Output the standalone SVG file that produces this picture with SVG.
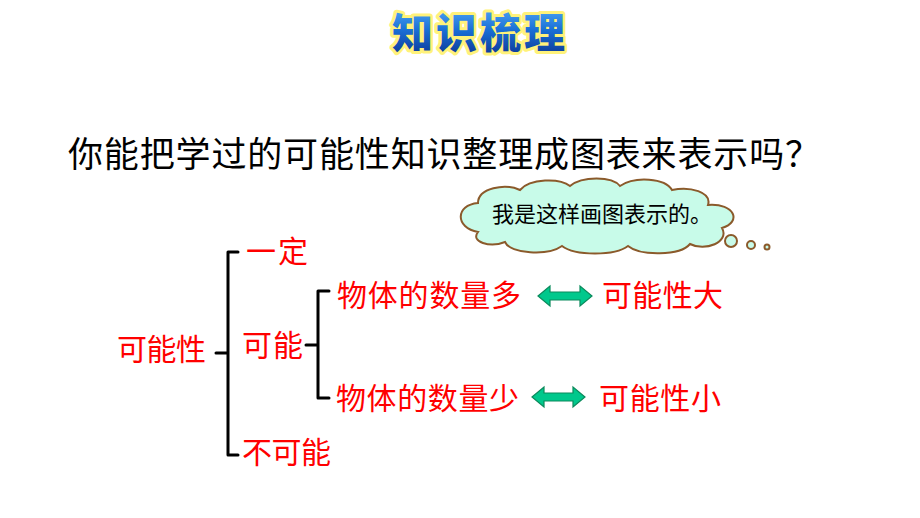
<svg xmlns="http://www.w3.org/2000/svg" width="920" height="518" viewBox="0 0 920 518">
<defs>
<linearGradient id="tg" x1="0" y1="0" x2="0" y2="1">
<stop offset="0" stop-color="#5fb8ff"/>
<stop offset="0.5" stop-color="#1a6fd6"/>
<stop offset="1" stop-color="#0a2f8c"/>
</linearGradient>
</defs>
<style>
.cjk{font-family:"Noto Sans CJK SC","Noto Sans",sans-serif;}
.red{fill:#ff0000;font-size:30px;}
.q{fill:#000;font-size:35px;}
.br{fill:none;stroke:#000;stroke-width:3;stroke-linecap:round;stroke-linejoin:round;}
.arr{fill:#00c88c;stroke:#0b8a5c;stroke-width:1.2;}
</style>
<rect width="920" height="518" fill="#fff"/>
<g id="title">
<text class="cjk" x="480" y="48" text-anchor="middle" font-size="41" font-weight="900" letter-spacing="3" fill="url(#tg)" stroke="#fff27a" stroke-width="6" paint-order="stroke" stroke-linejoin="round">知识梳理</text>
</g>
<g id="question">
<text class="cjk q" x="68" y="167" textLength="752" lengthAdjust="spacing">你能把学过的可能性知识整理成图表来表示吗？</text>
</g>
<g id="cloud">
<path d="M478,232 C455,228 455,205 478,203 C478,188 505,183 520,190 C530,178 560,178 570,186 C582,176 612,176 620,186 C635,176 665,178 672,190 C690,186 712,192 708,205 C735,203 742,222 722,228 C730,242 705,252 690,244 C680,256 640,256 628,246 C615,256 575,256 562,246 C548,256 510,254 505,242 C490,248 470,242 478,232 Z" fill="#c8fbe9" stroke="#8b5a2b" stroke-width="2"/>
<circle cx="731" cy="241" r="6" fill="#c8fbe9" stroke="#8b5a2b" stroke-width="2"/>
<circle cx="751" cy="245" r="4" fill="#c8fbe9" stroke="#8b5a2b" stroke-width="2"/>
<circle cx="767" cy="247" r="2.5" fill="#c8fbe9" stroke="#8b5a2b" stroke-width="2"/>
<text class="cjk" x="492" y="222" font-size="22" fill="#000" textLength="220" lengthAdjust="spacing">我是这样画图表示的。</text>
</g>
<g id="n-kenengxing"><text class="cjk red" x="117" y="360" textLength="89" lengthAdjust="spacing">可能性</text></g>
<g id="n-yiding"><text class="cjk red" x="246" y="262" textLength="62" lengthAdjust="spacing">一定</text></g>
<g id="n-keneng"><text class="cjk red" x="242" y="356" textLength="61" lengthAdjust="spacing">可能</text></g>
<g id="n-bukeneng"><text class="cjk red" x="242" y="463" textLength="89" lengthAdjust="spacing">不可能</text></g>
<g id="n-duo"><text class="cjk red" x="337" y="306" textLength="184" lengthAdjust="spacing">物体的数量多</text></g>
<g id="n-da"><text class="cjk red" x="602" y="306" textLength="121" lengthAdjust="spacing">可能性大</text></g>
<g id="n-shao"><text class="cjk red" x="336" y="409" textLength="183" lengthAdjust="spacing">物体的数量少</text></g>
<g id="n-xiao"><text class="cjk red" x="599" y="409" textLength="122" lengthAdjust="spacing">可能性小</text></g>
<g id="connectors">
<path class="br" d="M238,252 L228,252 L228,455 L238,455 M216,353 L228,353"/>
<path class="br" d="M329,291 L318,291 L318,398 L329,398 M306,345 L318,345"/>
<polygon class="arr" points="538,296 550,286 550,292 580,292 580,286 592,296 580,306 580,300 550,300 550,306"/>
<polygon class="arr" points="532,397 544,387 544,393 573,393 573,387 585,397 573,407 573,401 544,401 544,407"/>
</g>
</svg>
